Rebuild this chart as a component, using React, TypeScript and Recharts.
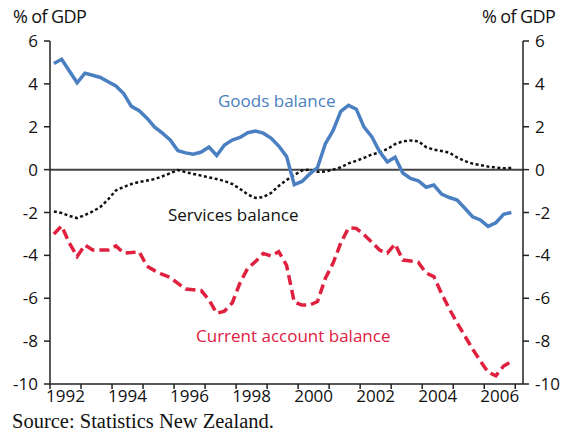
import React from "react";
import {
  LineChart,
  Line,
  XAxis,
  YAxis,
  ReferenceLine,
} from "recharts";

// Quarterly data, 1992Q1 .. 2006Q4 (% of GDP)
const startYear = 1992;
const endYear = 2006;

const goods = [
  4.95, 5.15, 4.6, 4.05, 4.5, 4.4, 4.3, 4.1, 3.9, 3.55,
  2.95, 2.75, 2.4, 1.98, 1.7, 1.38, 0.88, 0.78, 0.72, 0.82,
  1.05, 0.66, 1.15, 1.38, 1.5, 1.72, 1.8, 1.7, 1.47, 1.1,
  0.62, -0.7, -0.55, -0.2, 0.1, 1.2, 1.82, 2.72, 3.0, 2.82,
  1.98, 1.54, 0.84, 0.36, 0.58, -0.16, -0.41, -0.52, -0.82, -0.72,
  -1.14, -1.3, -1.42, -1.8, -2.2, -2.35, -2.65, -2.48, -2.08, -2.0,
];

const services = [
  -1.95, -2.02, -2.16, -2.26, -2.12, -1.95, -1.74, -1.39, -0.97, -0.81,
  -0.67, -0.58, -0.51, -0.44, -0.31, -0.17, -0.02, -0.12, -0.2, -0.28,
  -0.36, -0.44, -0.53, -0.67, -0.9, -1.16, -1.32, -1.28, -1.09, -0.76,
  -0.49, -0.25, -0.04, 0.0, -0.1, -0.09, 0.0, 0.11, 0.29, 0.41,
  0.55, 0.71, 0.8, 0.96, 1.19, 1.32, 1.36, 1.32, 1.05, 0.93,
  0.87, 0.79, 0.57, 0.4, 0.28, 0.21, 0.14, 0.1, 0.06, 0.08,
];

const current = [
  -3.0, -2.63, -3.43, -4.05, -3.52, -3.75, -3.75, -3.75, -3.56, -3.89,
  -3.87, -3.83, -4.5, -4.71, -4.89, -5.03, -5.31, -5.57, -5.6, -5.64,
  -6.08, -6.7, -6.6, -6.22, -5.29, -4.6, -4.29, -3.91, -4.03, -3.83,
  -4.45, -6.18, -6.32, -6.32, -6.15, -5.08, -4.37, -3.42, -2.72, -2.74,
  -3.04, -3.38, -3.75, -3.9, -3.47, -4.22, -4.26, -4.33, -4.82, -4.99,
  -5.78, -6.5, -7.15, -7.76, -8.37, -8.93, -9.44, -9.62, -9.16, -8.96,
];

const yTicks = [-10, -8, -6, -4, -2, 0, 2, 4, 6];
const xTickYears = [
  1992, 1993, 1994, 1995, 1996, 1997, 1998, 1999, 2000, 2001, 2002, 2003,
  2004, 2005, 2006, 2007,
];
const xLabelYears = [1992, 1994, 1996, 1998, 2000, 2002, 2004, 2006];

// Quarter categories ("1992Q1" ...), placed at mid-quarter on a time axis
const quarters: { label: string; t: number }[] = [];
for (let y = startYear; y <= endYear; y++) {
  for (let q = 1; q <= 4; q++) {
    quarters.push({ label: `${y}Q${q}`, t: y + (q - 0.5) / 4 });
  }
}

const data = quarters.map((q, i) => ({
  label: q.label,
  t: q.t,
  goods: goods[i],
  services: services[i],
  current: current[i],
}));

const SANS = "'Open Sans', 'Noto Sans', sans-serif";
const AXIS = "#222";
const HALF_YEAR_PX = 15.5;

const XTick = (props: any) => {
  const { x, y, payload } = props;
  const yr = payload.value;
  if (!xLabelYears.includes(yr)) return <g />;
  return (
    <text
      x={x + HALF_YEAR_PX}
      y={y}
      dy="0.71em"
      textAnchor="middle"
      fontSize={17}
      fontFamily={SANS}
      fill="#111"
    >
      {yr}
    </text>
  );
};

export default function App() {
  return (
    <div
      style={{
        position: "absolute",
        left: 0,
        top: 0,
        width: 564,
        height: 435,
        background: "#fff",
      }}
    >
      <LineChart
        width={564}
        height={435}
        data={data}
        margin={{ top: 41, right: 0, bottom: 25, left: 0 }}
      >
        <XAxis
          dataKey="t"
          type="number"
          domain={[1992, 2007.25]}
          ticks={xTickYears}
          interval={0}
          height={26}
          tick={<XTick />}
          tickSize={5}
          tickMargin={1}
          stroke={AXIS}
          strokeWidth={1.5}
          allowDataOverflow
        />
        <YAxis
          yAxisId="left"
          domain={[-10, 6]}
          ticks={yTicks}
          width={50}
          tickSize={6}
          tickMargin={6}
          stroke={AXIS}
          strokeWidth={1.5}
          tick={{ fontSize: 17, fontFamily: SANS, fill: "#111" }}
          interval={0}
          allowDataOverflow
        />
        <YAxis
          yAxisId="right"
          orientation="right"
          domain={[-10, 6]}
          ticks={yTicks}
          width={41}
          tickSize={6}
          tickMargin={6}
          stroke={AXIS}
          strokeWidth={1.5}
          tick={{ fontSize: 17, fontFamily: SANS, fill: "#111" }}
          interval={0}
          allowDataOverflow
        />
        <ReferenceLine yAxisId="left" y={0} stroke="#444" strokeWidth={2} />
        <Line
          yAxisId="right"
          type="linear"
          dataKey="services"
          stroke="none"
          strokeOpacity={0}
          dot={false}
          activeDot={false}
          isAnimationActive={false}
          legendType="none"
        />
        <Line
          yAxisId="left"
          type="linear"
          dataKey="services"
          stroke="#111"
          strokeWidth={2.5}
          strokeDasharray="3 2.5"
          dot={false}
          isAnimationActive={false}
        />
        <Line
          yAxisId="left"
          type="linear"
          dataKey="current"
          stroke="#e0203f"
          strokeWidth={3.5}
          strokeDasharray="10 5"
          dot={false}
          isAnimationActive={false}
        />
        <Line
          yAxisId="left"
          type="linear"
          dataKey="goods"
          stroke="#4a7fc1"
          strokeWidth={3.5}
          dot={false}
          isAnimationActive={false}
        />
      </LineChart>
      <svg
        width={564}
        height={435}
        style={{ position: "absolute", left: 0, top: 0, pointerEvents: "none" }}
      >
        <text x={13} y={23} fontSize={18} fontFamily={SANS} fill="#111" letterSpacing={-0.6}>
          % of GDP
        </text>
        <text x={482} y={23} fontSize={18} fontFamily={SANS} fill="#111" letterSpacing={-0.6}>
          % of GDP
        </text>
        <text x={218} y={107} fontSize={17} fontFamily={SANS} fill="#4a7fc1">
          Goods balance
        </text>
        <text x={168} y={221} fontSize={17} fontFamily={SANS} fill="#111">
          Services balance
        </text>
        <text x={196} y={342} fontSize={17} fontFamily={SANS} fill="#e0203f">
          Current account balance
        </text>
        <text x={12} y={428} fontSize={20.5} fontFamily="'Liberation Serif', 'Times New Roman', serif" fill="#111">
          Source: Statistics New Zealand.
        </text>
      </svg>
    </div>
  );
}
